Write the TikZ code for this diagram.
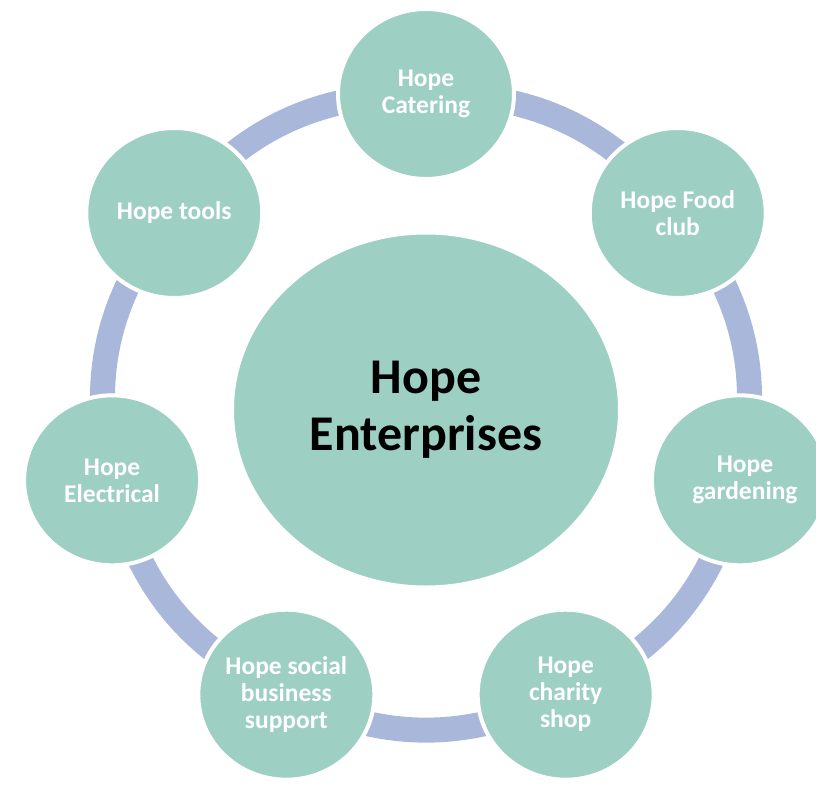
\documentclass[tikz,border=0pt]{standalone}
\usepackage{fontspec}
\setmainfont{Carlito}
\usetikzlibrary{shapes.geometric,backgrounds}

\definecolor{hopeteal}{RGB}{157,207,195}
\definecolor{hopering}{RGB}{169,184,218}

\tikzset{
  unit/.style={ellipse, fill=hopeteal, draw=white, line width=4pt, inner sep=0pt,
    minimum width=176pt, minimum height=170pt, align=center, text=white,
    font=\bfseries\fontsize{25.5}{27}\selectfont},
  hubnode/.style={ellipse, fill=hopeteal, draw=white, line width=4pt, inner sep=0pt,
    minimum width=388pt, minimum height=355pt, align=center, text=black,
    font=\bfseries\fontsize{50}{57}\selectfont},
  link/.style={draw=hopering, line width=25pt, bend left=25.7}
}

\begin{document}
\begin{tikzpicture}[x=1pt, y=1pt]
      \clip (-426,-375) rectangle (390,410);

      \node[hubnode] at (0,0)                     (hub)       {Hope\\Enterprises};
      \node[unit]    at (90:322 and 316)          (catering)  {Hope\\Catering};
      \node[unit]    at (38.57:322 and 316)       (foodclub)  {Hope Food\\club};
      \node[unit]    at (-12.86:322 and 316)      (gardening) {\hspace*{10pt}Hope\\\hspace*{10pt}gardening};
      \node[unit]    at (-64.29:322 and 316)      (charity)   {Hope\\charity\\shop};
      \node[unit]    at (-115.71:322 and 316)     (social)    {Hope social\\business\\support};
      \node[unit]    at (-167.14:322 and 316)     (electrical){Hope\\Electrical};
      \node[unit]    at (141.43:322 and 316)      (tools)     {Hope tools};

      \begin{scope}[on background layer]
        \draw[link] (catering.center)   to (foodclub.center);
        \draw[link] (foodclub.center)   to (gardening.center);
        \draw[link] (gardening.center)  to (charity.center);
        \draw[link] (charity.center)    to (social.center);
        \draw[link] (social.center)     to (electrical.center);
        \draw[link] (electrical.center) to (tools.center);
        \draw[link] (tools.center)      to (catering.center);
      \end{scope}

    \end{tikzpicture}
\end{document}
